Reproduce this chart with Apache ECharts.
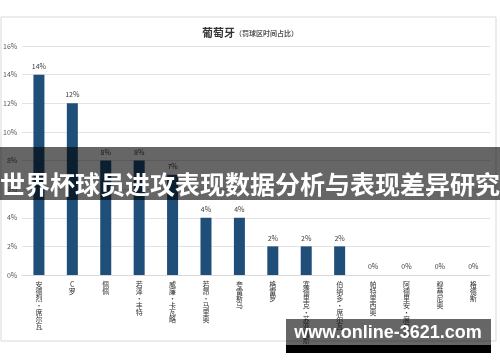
<!DOCTYPE html>
<html><head><meta charset="utf-8">
<script src="https://cdn.jsdelivr.net/npm/echarts@6/dist/echarts.min.js"></script>
<style>html,body{margin:0;padding:0;background:#fff}#c{width:500px;height:362px}</style>
</head><body><div id="c"></div>
<script>
const categories = ['安德烈·席尔瓦','C罗','佩佩','若泽·丰特','威廉·卡瓦略','若昂·马里奥','夸雷斯马','格雷罗','塞德里克·苏亚雷斯','伯纳多·席尔瓦','帕特里西奥','阿德里安·席尔瓦','穆蒂尼奥','格德斯'];
const values = [14, 12, 8, 8, 7, 4, 4, 2, 2, 2, 0, 0, 0, 0];
const yTicks = [0, 2, 4, 6, 8, 10, 12, 14, 16];
const titleMain = '葡萄牙';
const titleSub = '（罚球区时间占比）';
const bannerText = '世界杯球员进攻表现数据分析与表现差异研究';
const watermarkText = 'www.online-3621.com';

const chart = echarts.init(document.getElementById('c'), null, {renderer: 'canvas'});
const font = '"Noto Sans CJK SC", sans-serif';
chart.setOption({
  animation: false,
  textStyle: {fontFamily: font},
  title: {
    text: '{a|' + titleMain + '}{b|' + titleSub + '}', left: 'center', top: 22,
    textStyle: {
      rich: {
        a: {fontSize: 11, fontWeight: 'bold', color: '#333', fontFamily: font},
        b: {fontSize: 7, color: '#555', fontFamily: font, padding: [2, 0, 0, 0]}
      }
    }
  },
  grid: {left: 22, right: 10, top: 46, bottom: 87},
  xAxis: {
    type: 'category', data: categories,
    axisLine: {lineStyle: {color: '#d9d9d9'}},
    axisTick: {show: false},
    axisLabel: {
      interval: 0, fontSize: 7, color: '#333', lineHeight: 7, margin: 6,
      verticalAlign: 'top', hideOverlap: false,
      formatter: v => v.split('').join('\n')
    }
  },
  yAxis: {
    type: 'value', min: yTicks[0], max: yTicks[yTicks.length - 1], interval: 2,
    axisLabel: {formatter: '{value}%', fontSize: 7, color: '#595959', margin: 5},
    splitLine: {lineStyle: {color: '#e3e3e3'}},
    axisLine: {show: false}, axisTick: {show: false}
  },
  series: [{
    type: 'bar', data: values, barWidth: 11,
    itemStyle: {color: '#1f4e79'},
    label: {show: true, position: 'top', formatter: '{c}%', fontSize: 7, color: '#404040', distance: 5}
  }],
  graphic: [
    {type: 'rect', shape: {x: 1, y: 17, width: 495, height: 324}, style: {fill: 'none', stroke: '#d9d9d9', lineWidth: 1}, z: 100},
    {type: 'rect', shape: {x: 0, y: 147, width: 500, height: 53}, style: {fill: 'rgba(0,0,0,0.6)'}, z: 101},
    {type: 'text', x: 250, y: 184, style: {text: bannerText, fill: '#fff', font: 'bold 25px "Noto Sans CJK SC", sans-serif', align: 'center', verticalAlign: 'middle'}, z: 102},
    {type: 'rect', shape: {x: 286, y: 319, width: 205, height: 26}, style: {fill: 'rgba(0,0,0,0.6)'}, z: 101},
    {type: 'rect', shape: {x: 286, y: 345, width: 205, height: 8}, style: {fill: '#000'}, z: 101},
    {type: 'text', x: 388, y: 333, style: {text: watermarkText, fill: '#fff', font: 'bold 18px "Liberation Sans", Arial, sans-serif', align: 'center', verticalAlign: 'middle'}, z: 102}
  ]
});
</script></body></html>
